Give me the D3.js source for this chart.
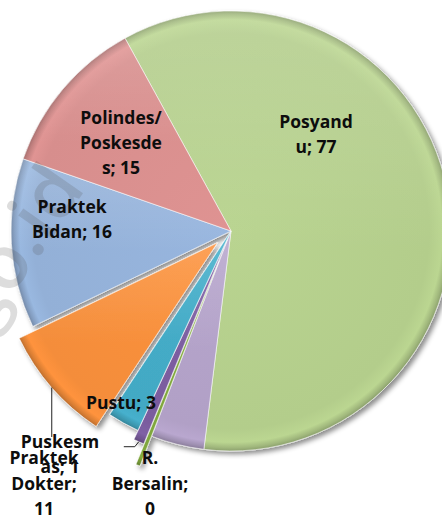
<!DOCTYPE html>
<html>
<head>
<meta charset="utf-8">
<script src="https://cdn.jsdelivr.net/npm/d3@7"></script>
<style>
  body { margin: 0; background: #fff; }
  svg { display: block; }
  .lbl { font-family: "Open Sans", sans-serif; font-weight: 700; font-size: 17.5px; fill: #0d0d0d; }
</style>
</head>
<body>
<div id="chart"></div>
<script>
// slice data, clockwise from the first slice
const names = ['Posyandu', 'Lainnya', 'R. Bersalin', 'Puskesmas', 'Pustu', 'Praktek Dokter', 'Praktek Bidan', 'Polindes/Poskesdes'];
const values = [77, 5, 0.4, 1, 3, 11, 16, 15];
// label text as wrapped in the original (empty = no label)
const labelLines = [
    ['Posyand', 'u; 77'],
    [],
    ['R.', 'Bersalin;', '0'],
    ['Puskesm', 'as; 1'],
    ['Pustu; 3'],
    ['Praktek', 'Dokter;', '11'],
    ['Praktek', 'Bidan; 16'],
    ['Polindes/', 'Poskesde', 's; 15']
];
const colors = ['#b3cd8b', '#b1a0c6', '#7fa63c', '#7a5c9e', '#43a9c4', '#f48d3a', '#93b0d7', '#d78e8d'];

// layout
const width = 442, height = 518;
const cx = 231, cy = 231, radius = 220;
const startDeg = -28.8;
const explode = [0, 0, 32, 10, 0, 18, 0, 0];
const labelPos = [[316, 128], null, [150, 464], [60, 448], [121, 409], [44, 464], [72, 213], [121, 124]];
const lineGap = [25, 0, 25.5, 25, 0, 25.5, 25, 25];

const svg = d3.select('#chart').append('svg')
    .attr('width', width)
    .attr('height', height);

svg.append('rect').attr('width', width).attr('height', height).attr('fill', '#fff');

const defs = svg.append('defs');

const shadow = defs.append('filter').attr('id', 'shadow')
    .attr('x', '-20%').attr('y', '-20%').attr('width', '140%').attr('height', '140%');
shadow.append('feDropShadow')
    .attr('dx', 3).attr('dy', 3).attr('stdDeviation', 2.5)
    .attr('flood-color', '#000').attr('flood-opacity', 0.45);

// bevel-like gradient per slice
colors.forEach((c, i) => {
    const g = defs.append('radialGradient')
        .attr('id', 'grad' + i)
        .attr('gradientUnits', 'userSpaceOnUse')
        .attr('cx', 0).attr('cy', 0).attr('r', radius);
    const base = d3.color(c);
    g.append('stop').attr('offset', '0%').attr('stop-color', base.brighter(0.1));
    g.append('stop').attr('offset', '90%').attr('stop-color', base);
    g.append('stop').attr('offset', '96%').attr('stop-color', base.brighter(0.12));
    g.append('stop').attr('offset', '98.5%').attr('stop-color', base.darker(0.3));
    g.append('stop').attr('offset', '100%').attr('stop-color', base.darker(0.7));
});

const gloss = defs.append('linearGradient').attr('id', 'gloss')
    .attr('x1', 0).attr('y1', 0).attr('x2', 0).attr('y2', 1);
gloss.append('stop').attr('offset', '0%').attr('stop-color', '#fff').attr('stop-opacity', 0.14);
gloss.append('stop').attr('offset', '55%').attr('stop-color', '#fff').attr('stop-opacity', 0);

const pie = d3.pie()
    .sort(null)
    .value(d => d)
    .startAngle(startDeg * Math.PI / 180)
    .endAngle((startDeg + 360) * Math.PI / 180);

const arcs = pie(values);

const arc = d3.arc()
    .innerRadius(0)
    .outerRadius(radius);

function offsetOf(d, i) {
    const a = (d.startAngle + d.endAngle) / 2;
    return [Math.sin(a) * explode[i], -Math.cos(a) * explode[i]];
}

const pieG = svg.append('g')
    .attr('transform', `translate(${cx},${cy})`)
    .attr('filter', 'url(#shadow)');

const slices = pieG.selectAll('.slice')
    .data(arcs)
    .enter()
    .append('g')
    .attr('class', 'slice')
    .attr('transform', (d, i) => {
        const o = offsetOf(d, i);
        return `translate(${o[0]},${o[1]})`;
    });

slices.append('path')
    .attr('d', arc)
    .attr('fill', (d, i) => `url(#grad${i})`)
    .attr('stroke', 'rgba(255,255,255,0.7)')
    .attr('stroke-width', 0.8)
    .attr('stroke-linejoin', 'round');

slices.append('path')
    .attr('d', arc)
    .attr('fill', 'url(#gloss)')
    .attr('pointer-events', 'none');

// faint watermark
svg.append('text')
    .attr('transform', 'translate(-14,332) rotate(-55)')
    .attr('font-family', '"Open Sans", sans-serif')
    .attr('font-weight', 600)
    .attr('font-size', 75)
    .attr('fill', '#555')
    .attr('fill-opacity', 0.2)
    .text('go.id');

// leader lines
function outerMid(i) {
    const d = arcs[i];
    const a = (d.startAngle + d.endAngle) / 2;
    const o = offsetOf(d, i);
    return [cx + o[0] + Math.sin(a) * radius, cy + o[1] - Math.cos(a) * radius];
}

const dokter = outerMid(5);
svg.append('path')
    .attr('d', d3.line()([dokter, [dokter[0], 437]]))
    .attr('fill', 'none').attr('stroke', '#222').attr('stroke-width', 1);

const pusk = outerMid(3);
svg.append('path')
    .attr('d', d3.line()([pusk, [pusk[0] - 4, pusk[1] + 5], [pusk[0] - 15, pusk[1] + 5]]))
    .attr('fill', 'none').attr('stroke', '#222').attr('stroke-width', 1);

// labels
labelLines.forEach((lines, i) => {
    if (!lines.length) return;
    const p = labelPos[i];
    const t = svg.append('text')
        .attr('class', 'lbl')
        .attr('text-anchor', 'middle');
    lines.forEach((s, k) => {
        t.append('tspan')
            .attr('x', p[0])
            .attr('y', p[1] + k * lineGap[i])
            .text(s);
    });
});
</script>
</body>
</html>
